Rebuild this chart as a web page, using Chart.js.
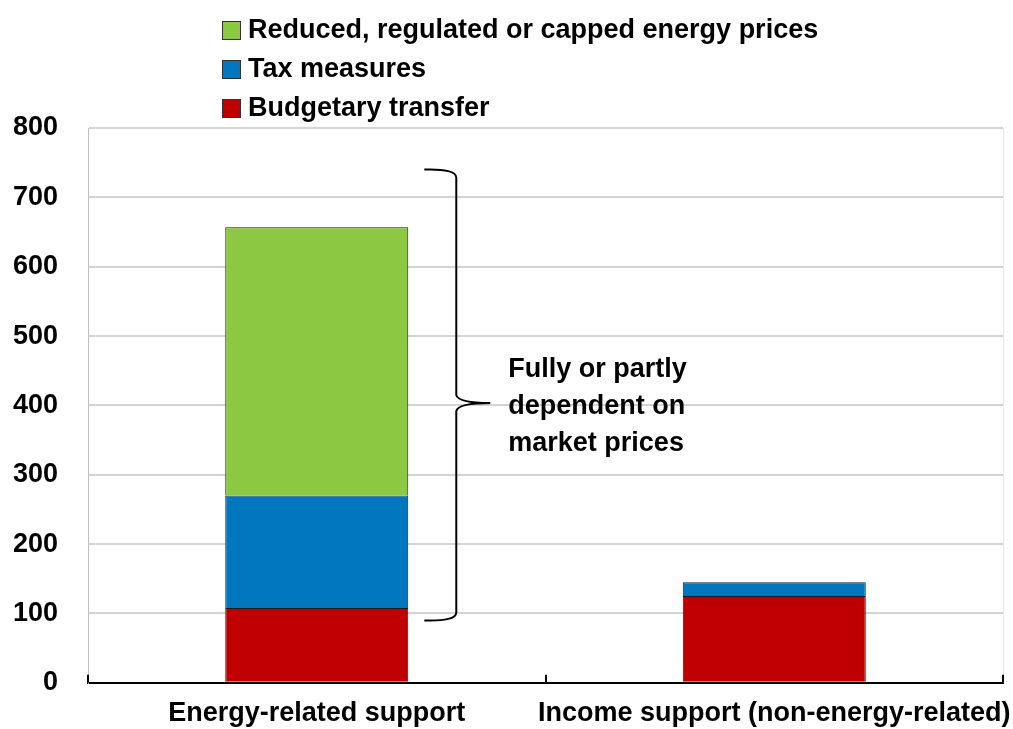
<!DOCTYPE html>
<html>
<head>
<meta charset="utf-8">
<script src="https://cdn.jsdelivr.net/npm/chart.js@4/dist/chart.umd.min.js"></script>
<style>
html,body{margin:0;padding:0;background:#fff;}
#wrap{width:1013px;height:729px;position:relative;}
</style>
</head>
<body>
<div id="wrap"><canvas id="c" width="1013" height="729"></canvas></div>
<script>
const categories = ['Energy-related support', 'Income support (non-energy-related)'];
const budgetaryTransfer = [108, 125];
const taxMeasures = [162, 20];
const reducedPrices = [387, 0];
const yTicks = [0, 100, 200, 300, 400, 500, 600, 700, 800];
const seriesLabels = ['Budgetary transfer', 'Tax measures', 'Reduced, regulated or capped energy prices'];
const seriesColors = ['#C00000', '#0077BE', '#8CC841'];
const bracketRange = [90, 740];
const bracketText = ['Fully or partly', 'dependent on', 'market prices'];

const FONT = "'Liberation Sans',Arial,sans-serif";
const FSIZE = 27;

const overlay = {
  id: 'overlay',
  afterDraw(chart) {
    const ctx = chart.ctx;
    const x = chart.scales.x, y = chart.scales.y;
    const ca = chart.chartArea;
    ctx.save();
    // right border faint
    ctx.strokeStyle = '#e6e6e6'; ctx.lineWidth = 1;
    ctx.beginPath(); ctx.moveTo(ca.right + 0.5, ca.top); ctx.lineTo(ca.right + 0.5, ca.bottom); ctx.stroke();
    // x-axis upward ticks at category boundaries
    ctx.strokeStyle = '#000'; ctx.lineWidth = 2;
    const half = (x.getPixelForValue(1) - x.getPixelForValue(0)) / 2;
    for (let i = 0; i <= categories.length; i++) {
      const px = Math.round(x.getPixelForValue(i) - half);
      ctx.beginPath(); ctx.moveTo(px, ca.bottom); ctx.lineTo(px, ca.bottom - 8); ctx.stroke();
    }
    // x category labels
    ctx.font = "bold " + FSIZE + "px " + FONT;
    ctx.fillStyle = '#000';
    ctx.textAlign = 'center';
    ctx.textBaseline = 'middle';
    categories.forEach((c, i) => ctx.fillText(c, x.getPixelForValue(i), ca.bottom + 31));
    // legend (reversed order: top = last dataset)
    ctx.textAlign = 'left';
    const ds = chart.data.datasets;
    const rowsY = [30, 69, 108];
    for (let k = 0; k < ds.length; k++) {
      const d = ds[ds.length - 1 - k];
      const cy = rowsY[k];
      ctx.fillStyle = d.backgroundColor;
      ctx.fillRect(222, cy - 9, 19, 19);
      ctx.strokeStyle = '#333'; ctx.lineWidth = 1;
      ctx.strokeRect(222.5, cy - 8.5, 18, 18);
      ctx.fillStyle = '#000';
      ctx.fillText(d.label, 248, cy + 1);
    }
    // bracket
    const yTop = y.getPixelForValue(bracketRange[1]);
    const yBot = y.getPixelForValue(bracketRange[0]);
    const yMid = (yTop + yBot) / 2 + 8;
    const bx = x.getPixelForValue(0) + 0.305 * (2 * half);
    const r = 8;
    ctx.strokeStyle = '#000'; ctx.lineWidth = 2;
    ctx.beginPath();
    ctx.moveTo(bx - 32, yTop);
    ctx.quadraticCurveTo(bx, yTop - 1, bx, yTop + r);
    ctx.lineTo(bx, yMid - r);
    ctx.quadraticCurveTo(bx + 2, yMid, bx + 34, yMid);
    ctx.moveTo(bx + 34, yMid);
    ctx.quadraticCurveTo(bx + 2, yMid, bx, yMid + r);
    ctx.lineTo(bx, yBot - r);
    ctx.quadraticCurveTo(bx, yBot + 1, bx - 32, yBot);
    ctx.stroke();
    // bracket text
    ctx.fillStyle = '#000';
    bracketText.forEach((t, i) => ctx.fillText(t, bx + 52, yMid - 33 + i * 37));
    ctx.restore();
  }
};

const chart = new Chart(document.getElementById('c'), {
  type: 'bar',
  data: {
    labels: categories,
    datasets: [
      { label: seriesLabels[0], data: budgetaryTransfer, backgroundColor: seriesColors[0] },
      { label: seriesLabels[1], data: taxMeasures, backgroundColor: seriesColors[1] },
      { label: seriesLabels[2], data: reducedPrices, backgroundColor: seriesColors[2] }
    ].map(d => Object.assign(d, { borderColor: '#1a1a1a', borderWidth: 1, barPercentage: 0.4, categoryPercentage: 1.0 }))
  },
  options: {
    responsive: false,
    animation: false,
    devicePixelRatio: 1,
    layout: { padding: { left: 0, right: 10, top: 128, bottom: 0 } },
    plugins: { legend: { display: false }, tooltip: { enabled: false } },
    scales: {
      x: {
        stacked: true,
        afterFit(s) { s.height = 46; s.paddingLeft = 0; s.paddingRight = 0; },
        grid: { display: false, drawTicks: false },
        border: { display: true, color: '#000', width: 2 },
        ticks: { display: false }
      },
      y: {
        stacked: true,
        min: 0, max: 800,
        afterFit(s) { s.width = 88; },
        afterBuildTicks(s) { s.ticks = yTicks.map(v => ({ value: v })); },
        grid: { color: '#d4d4d4', lineWidth: 2, drawTicks: false },
        border: { display: true, color: '#bfbfbf', width: 1 },
        ticks: { color: '#000', font: { family: FONT, size: FSIZE, weight: 'bold' }, padding: 30 }
      }
    }
  },
  plugins: [overlay]
});
</script>
</body>
</html>
